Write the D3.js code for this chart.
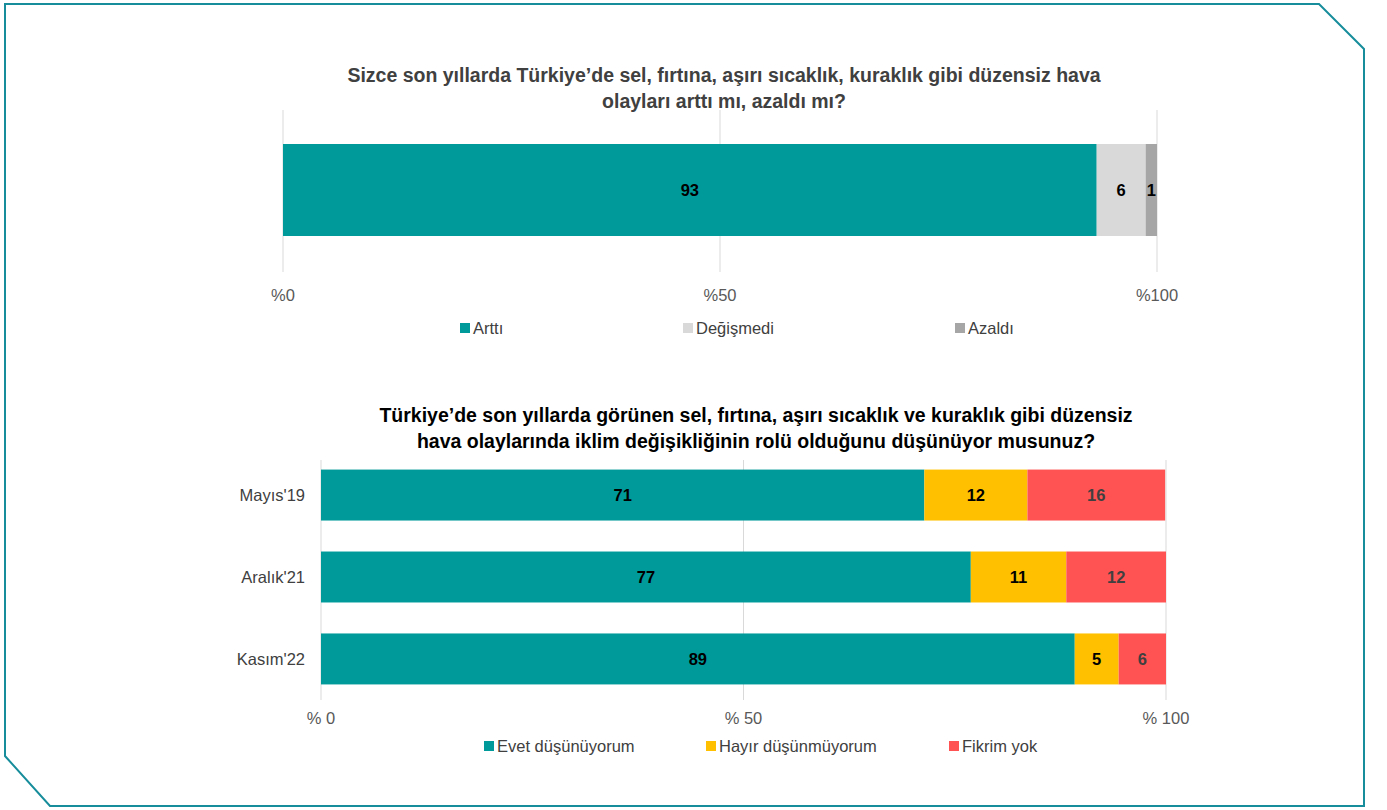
<!DOCTYPE html>
<html>
<head>
<meta charset="utf-8">
<script src="https://cdn.jsdelivr.net/npm/d3@7"></script>
<style>
  body { margin: 0; background: #fff; }
  svg { display: block; font-family: "Liberation Sans", Arial, sans-serif; }
</style>
</head>
<body>
<div id="chart"></div>
<script>
// Chart 1 data
var q1Title = ["Sizce son yıllarda Türkiye’de sel, fırtına, aşırı sıcaklık, kuraklık gibi düzensiz hava",
               "olayları arttı mı, azaldı mı?"];
var q1Keys = ["Arttı", "Değişmedi", "Azaldı"];
var q1Values = [93.1, 5.6, 1.3];
var q1Ticks = [0, 50, 100];

// Chart 2 data
var q2Title = ["Türkiye’de son yıllarda görünen sel, fırtına, aşırı sıcaklık ve kuraklık gibi düzensiz",
               "hava olaylarında iklim değişikliğinin rolü olduğunu düşünüyor musunuz?"];
var q2Periods = ["Mayıs'19", "Aralık'21", "Kasım'22"];
var q2Keys = ["Evet düşünüyorum", "Hayır düşünmüyorum", "Fikrim yok"];
var q2Evet = [71.4, 76.9, 89.2];
var q2Hayir = [12.2, 11.3, 5.2];
var q2Fikrim = [16.3, 11.8, 5.6];
var q2Ticks = [0, 50, 100];

var W = 1387, H = 810;
var titleSize = 19.5, textSize = 16.5, labelSize = 16.5;

var svg = d3.select("#chart")
  .append("svg")
    .attr("width", W)
    .attr("height", H);

// Outer frame with cut corners
svg.append("path")
  .attr("d", "M5,4 L1319,4 L1364,49 L1364,806 L50,806 L5,756 Z")
  .attr("fill", "none")
  .attr("stroke", "#178d9b")
  .attr("stroke-width", 2);

// ---------- Chart 1 ----------
var x1 = d3.scaleLinear().domain([0, 100]).range([283, 1157]);
var q1Colors = ["#009a9a", "#d9d9d9", "#a6a6a6"];

svg.append("g")
  .selectAll("text")
  .data(q1Title)
  .join("text")
    .attr("x", 724)
    .attr("y", function(d, i) { return 82 + i * 26; })
    .attr("text-anchor", "middle")
    .attr("font-size", titleSize)
    .attr("font-weight", "bold")
    .attr("fill", "#404040")
    .text(function(d) { return d; });

// gridlines
svg.append("g")
  .selectAll("line")
  .data(q1Ticks)
  .join("line")
    .attr("x1", function(d) { return x1(d); })
    .attr("x2", function(d) { return x1(d); })
    .attr("y1", 110)
    .attr("y2", 272)
    .attr("stroke", "#d9d9d9")
    .attr("stroke-width", 1);

var q1Stack = [];
var acc = 0;
q1Values.forEach(function(v, i) {
  q1Stack.push({key: q1Keys[i], x0: acc, x1: acc + v, v: v, color: q1Colors[i]});
  acc += v;
});

svg.append("g")
  .selectAll("rect")
  .data(q1Stack)
  .join("rect")
    .attr("x", function(d) { return x1(d.x0); })
    .attr("width", function(d) { return x1(d.x1) - x1(d.x0); })
    .attr("y", 144)
    .attr("height", 92)
    .attr("fill", function(d) { return d.color; });

svg.append("g")
  .selectAll("text")
  .data(q1Stack)
  .join("text")
    .attr("x", function(d) { return (x1(d.x0) + x1(d.x1)) / 2; })
    .attr("y", 190)
    .attr("dy", "0.35em")
    .attr("text-anchor", "middle")
    .attr("font-size", labelSize)
    .attr("font-weight", "bold")
    .attr("fill", "#000")
    .text(function(d) { return Math.round(d.v); });

// axis labels
svg.append("g")
  .selectAll("text")
  .data(q1Ticks)
  .join("text")
    .attr("x", function(d) { return x1(d); })
    .attr("y", 295)
    .attr("dy", "0.35em")
    .attr("text-anchor", "middle")
    .attr("font-size", textSize)
    .attr("fill", "#595959")
    .text(function(d) { return "%" + d; });

// legend 1
var leg1X = [460, 683, 955];
var leg1 = svg.append("g")
  .selectAll("g")
  .data(q1Keys)
  .join("g")
    .attr("transform", function(d, i) { return "translate(" + leg1X[i] + ",328)"; });
leg1.append("rect")
  .attr("x", 0).attr("y", -5)
  .attr("width", 10).attr("height", 10)
  .attr("fill", function(d, i) { return q1Colors[i]; });
leg1.append("text")
  .attr("x", 13)
  .attr("dy", "0.35em")
  .attr("font-size", textSize)
  .attr("fill", "#404040")
  .text(function(d) { return d; });

// ---------- Chart 2 ----------
var x2 = d3.scaleLinear().domain([0, 100]).range([321, 1166]);
var y2 = d3.scaleBand().domain(q2Periods).range([454, 700]).paddingInner(0.378).paddingOuter(0.19);
var q2Colors = ["#009a9a", "#ffc000", "#ff5353"];
var q2LabelColors = ["#000", "#000", "#404040"];

svg.append("g")
  .selectAll("text")
  .data(q2Title)
  .join("text")
    .attr("x", 756)
    .attr("y", function(d, i) { return 422 + i * 26; })
    .attr("text-anchor", "middle")
    .attr("font-size", titleSize)
    .attr("font-weight", "bold")
    .attr("fill", "#000")
    .text(function(d) { return d; });

svg.append("g")
  .selectAll("line")
  .data(q2Ticks)
  .join("line")
    .attr("x1", function(d) { return x2(d); })
    .attr("x2", function(d) { return x2(d); })
    .attr("y1", 460)
    .attr("y2", 700)
    .attr("stroke", "#d9d9d9")
    .attr("stroke-width", 1);

var q2Rows = q2Periods.map(function(p, i) {
  return {period: p, evet: q2Evet[i], hayir: q2Hayir[i], fikrim: q2Fikrim[i]};
});
var stack = d3.stack().keys(["evet", "hayir", "fikrim"]);
var series = stack(q2Rows);

var layers = svg.append("g")
  .selectAll("g")
  .data(series)
  .join("g")
    .attr("fill", function(d, i) { return q2Colors[i]; });

layers.selectAll("rect")
  .data(function(d) { return d; })
  .join("rect")
    .attr("x", function(d) { return x2(d[0]); })
    .attr("width", function(d) { return x2(d[1]) - x2(d[0]); })
    .attr("y", function(d) { return y2(d.data.period); })
    .attr("height", y2.bandwidth());

var labels = svg.append("g")
  .selectAll("g")
  .data(series)
  .join("g")
    .attr("fill", function(d, i) { return q2LabelColors[i]; });

labels.selectAll("text")
  .data(function(d) { return d; })
  .join("text")
    .attr("x", function(d) { return (x2(d[0]) + x2(d[1])) / 2; })
    .attr("y", function(d) { return y2(d.data.period) + y2.bandwidth() / 2; })
    .attr("dy", "0.35em")
    .attr("text-anchor", "middle")
    .attr("font-size", labelSize)
    .attr("font-weight", "bold")
    .text(function(d) { return Math.round(d[1] - d[0]); });

// category labels
svg.append("g")
  .selectAll("text")
  .data(q2Periods)
  .join("text")
    .attr("x", 305)
    .attr("y", function(d) { return y2(d) + y2.bandwidth() / 2; })
    .attr("dy", "0.35em")
    .attr("text-anchor", "end")
    .attr("font-size", textSize)
    .attr("fill", "#404040")
    .text(function(d) { return d; });

svg.append("g")
  .selectAll("text")
  .data(q2Ticks)
  .join("text")
    .attr("x", function(d) { return x2(d); })
    .attr("y", 718)
    .attr("dy", "0.35em")
    .attr("text-anchor", "middle")
    .attr("font-size", textSize)
    .attr("fill", "#595959")
    .text(function(d) { return "% " + d; });

var leg2X = [484, 706, 949];
var leg2 = svg.append("g")
  .selectAll("g")
  .data(q2Keys)
  .join("g")
    .attr("transform", function(d, i) { return "translate(" + leg2X[i] + ",746)"; });
leg2.append("rect")
  .attr("x", 0).attr("y", -5)
  .attr("width", 10).attr("height", 10)
  .attr("fill", function(d, i) { return q2Colors[i]; });
leg2.append("text")
  .attr("x", 13)
  .attr("dy", "0.35em")
  .attr("font-size", textSize)
  .attr("fill", "#404040")
  .text(function(d) { return d; });
</script>
</body>
</html>
